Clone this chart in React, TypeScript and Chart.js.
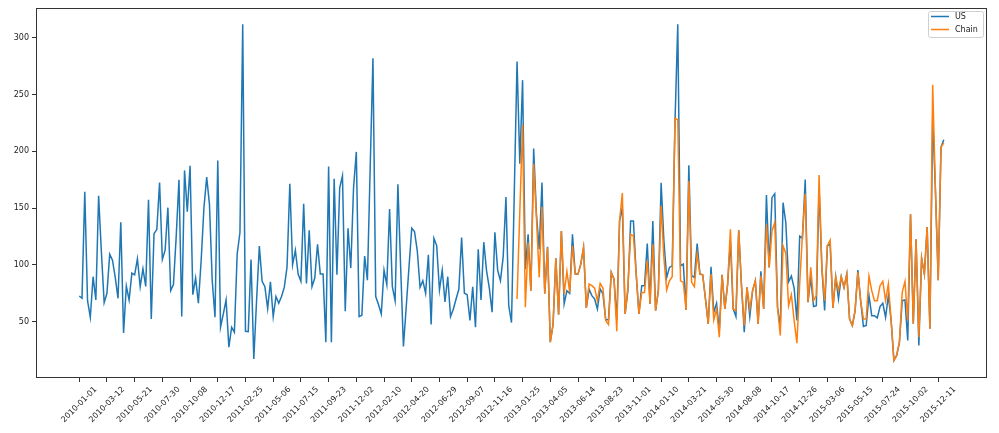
import React, { useEffect, useRef } from 'react';
import { Chart, registerables } from 'chart.js';

Chart.register(...registerables);

// Weekly series starting 2010-01-01 (index = week number)
const tickLabels = [
  '2010-01-01', '2010-03-12', '2010-05-21', '2010-07-30', '2010-10-08', '2010-12-17',
  '2011-02-25', '2011-05-06', '2011-07-15', '2011-09-23', '2011-12-02', '2012-02-10',
  '2012-04-20', '2012-06-29', '2012-09-07', '2012-11-16', '2013-01-25', '2013-04-05',
  '2013-06-14', '2013-08-23', '2013-11-01', '2014-01-10', '2014-03-21', '2014-05-30',
  '2014-08-08', '2014-10-17', '2014-12-26', '2015-03-06', '2015-05-15', '2015-07-24',
  '2015-10-02', '2015-12-11',
];
const tickStep = 10;

const usValues = [
  72.5, 70.5, 164.3, 68.4, 53.8, 89.5, 69, 160.8, 111, 66.7,
  74.9, 109.4, 104.1, 88.9, 70.5, 137.4, 40, 81.3, 69, 92.7,
  91.2, 105.3, 80.7, 96.5, 81, 157.3, 52.3, 127.5, 131, 172.5,
  104.7, 112.9, 150.3, 77.2, 82.5, 125, 174.9, 54.4, 183.1, 146.8,
  187.1, 73.7, 88.3, 66.1, 103.5, 150, 177.2, 153.2, 85.9, 53.8,
  191.8, 45, 56.7, 69, 27.5, 45, 40.6, 109.4, 128.4, 311.7,
  41.5, 41.2, 104.7, 17, 68.4, 116.4, 85.4, 80.7, 61.4, 85.1,
  54.4, 72, 66.1, 72, 80.1, 98.2, 171.3, 100, 112.9, 91.8,
  85.4, 153.8, 83.6, 130.4, 80.7, 88.3, 118.1, 91.8, 91.8, 31.9,
  186.5, 31.9, 175.7, 91.2, 167.8, 178.4, 59.1, 132.2, 97.1, 167.8,
  199.4, 54.4, 55.6, 107.6, 86.5, 185, 281.9, 72, 65, 56.7,
  95.3, 82.5, 149.1, 80.7, 68.4, 170.8, 97.7, 28.1, 62.6, 97.7,
  132.2, 129.2, 112.3, 80.1, 86, 74.9, 108.8, 47.4, 123.4, 116.9,
  77.8, 95.3, 67.3, 89.5, 54.4, 60.8, 69.9, 78.4, 124, 74.9,
  73.7, 50.9, 80.7, 45, 113.7, 69, 119.9, 94.7, 79.5, 58.2,
  128.7, 95.3, 85.9, 107, 159.6, 64.3, 49.1, 163, 279, 188.9,
  262.6, 96.2, 126.9, 77.2, 202.3, 144.4, 113.7, 172.5, 74.9, 115.8,
  31.9, 47.4, 105.8, 56.1, 129.8, 65.5, 77.2, 74.9, 126.9, 91.8,
  91.8, 100.6, 115.2, 62, 78.4, 72.8, 69.9, 61.1, 78.7, 74.3,
  51.5, 51.5, 93.3, 87.4, 50.9, 138.6, 150.3, 56.7, 77.2, 138.6,
  138.6, 91.8, 56.7, 81.6, 81.6, 118.7, 65.5, 138.6, 59.7, 77.2,
  172.2, 121, 88.7, 97.7, 99.1, 225, 311.7, 99.1, 100.6, 60.2,
  187.7, 90.4, 88.9, 118.7, 91.8, 91.2, 69.9, 48, 98.2, 58.2,
  66.1, 42.1, 91.2, 61.1, 83, 121, 61.1, 54.4, 130.4, 81.6,
  40.6, 80.1, 54.4, 77.2, 85.9, 48, 94.2, 61.1, 161.4, 97.7,
  159.1, 162.6, 62.6, 45, 154.7, 137, 85, 90.1, 79.5, 50.9,
  125.2, 123.4, 175.1, 67, 88.9, 63.2, 64, 167.8, 97.7, 59.7,
  116.7, 118.1, 62, 89.5, 69.9, 89.5, 80.1, 91.8, 52.3, 46.5,
  59.7, 95.3, 68.4, 45.6, 46.5, 73, 55.2, 55.2, 53.2, 63.2,
  66.1, 53.8, 72.8, 50.9, 15.8, 20.2, 31.9, 68.4, 69, 33.3,
  144.4, 48, 122.5, 28.9, 105.8, 91.8, 133.3, 43.6, 230, 165,
  86.5, 203.5, 210.2,
];

const chainStart = 158;
const chainValues = [
  69.9, 146.8, 223.4, 62.6, 119.6, 77.2, 188.9, 141.5, 88.9, 150.9,
  74.3, 115.2, 31.9, 47.4, 105.8, 56.1, 129.8, 74.3, 94.2, 75.7,
  116.7, 91.8, 91.8, 100.6, 115.2, 62, 83, 81.6, 79.5, 68.4,
  83.6, 79.5, 50.9, 47.4, 93.3, 87.4, 41.5, 138.6, 163.2, 56.7,
  80.1, 126.9, 125.4, 91.8, 56.7, 75.7, 75.7, 103.5, 65.5, 118.1,
  59.7, 77.2, 151.8, 106, 77.8, 85.9, 89.5, 229, 227.8, 85.9,
  84.5, 60.2, 173.7, 84.5, 80.7, 109.4, 91.8, 91.2, 69.9, 48,
  91.8, 51.5, 61.1, 36.3, 91.2, 61.1, 83, 131.3, 61.1, 59.7,
  130.4, 81.6, 46.5, 80.1, 61.1, 77.2, 85.9, 48, 90.4, 61.1,
  135.7, 97.7, 129.8, 137.2, 62.6, 37.7, 116.7, 110, 64, 73.7,
  50.9, 31, 83, 126.9, 162.6, 67, 97.7, 68.4, 72.8, 179,
  97.7, 68.4, 116.7, 121.6, 62, 89.5, 77.2, 89.5, 80.1, 91.8,
  52.3, 46.5, 59.7, 93.3, 68.4, 52.3, 52.3, 90, 77.2, 68.4,
  68.4, 81.6, 85.4, 68.4, 83, 50.9, 15.8, 20.2, 31.9, 75.7,
  85.4, 50.9, 144.4, 48, 122.5, 36.3, 105.8, 91.8, 133.3, 43.6,
  258.5, 165, 86.5, 203.5, 207.3,
];

const yTicks = [50, 100, 150, 200, 250, 300];
const seriesNames = ['US', 'Chain'];
const seriesColors = ['#1f77b4', '#ff7f0e'];

const FONT = '8px "DejaVu Sans", sans-serif';

const framePlugin = {
  id: 'frameAndLabels',
  afterDatasetsDraw(chart: any) {
    const { ctx, chartArea } = chart;
    const xs = chart.scales.x;
    ctx.save();
    // axes frame
    ctx.strokeStyle = '#333';
    ctx.lineWidth = 1;
    ctx.strokeRect(
      Math.round(chartArea.left) + 0.5,
      Math.round(chartArea.top) + 0.5,
      Math.round(chartArea.right - chartArea.left) - 1,
      Math.round(chartArea.bottom - chartArea.top) - 1
    );
    // rotated x tick labels (centered on tick like matplotlib)
    ctx.font = FONT;
    ctx.fillStyle = '#222';
    ctx.textAlign = 'center';
    ctx.textBaseline = 'middle';
    const H = 9.3;
    tickLabels.forEach((lab, k) => {
      const px = xs.getPixelForValue(k * tickStep);
      const W = ctx.measureText(lab).width;
      const half = ((W + H) * Math.SQRT1_2) / 2;
      const cy = chartArea.bottom + 7 + half;
      ctx.save();
      ctx.translate(px, cy);
      ctx.rotate(-Math.PI / 4);
      ctx.fillText(lab, 0, 0);
      ctx.restore();
    });
    // legend
    const bx = 928.5, by = 11.5, bw = 55, bh = 26;
    ctx.beginPath();
    const r = 2;
    ctx.moveTo(bx + r, by);
    ctx.lineTo(bx + bw - r, by);
    ctx.quadraticCurveTo(bx + bw, by, bx + bw, by + r);
    ctx.lineTo(bx + bw, by + bh - r);
    ctx.quadraticCurveTo(bx + bw, by + bh, bx + bw - r, by + bh);
    ctx.lineTo(bx + r, by + bh);
    ctx.quadraticCurveTo(bx, by + bh, bx, by + bh - r);
    ctx.lineTo(bx, by + r);
    ctx.quadraticCurveTo(bx, by, bx + r, by);
    ctx.closePath();
    ctx.fillStyle = 'rgba(255,255,255,0.8)';
    ctx.fill();
    ctx.strokeStyle = '#d0d0d0';
    ctx.stroke();
    seriesNames.forEach((name, i) => {
      const ly = 16.5 + i * 13;
      ctx.strokeStyle = seriesColors[i];
      ctx.lineWidth = 1.5;
      ctx.beginPath();
      ctx.moveTo(931, ly);
      ctx.lineTo(949, ly);
      ctx.stroke();
      ctx.fillStyle = '#222';
      ctx.textAlign = 'left';
      ctx.textBaseline = 'middle';
      ctx.fillText(name, 955, ly + 0.5);
    });
    ctx.restore();
  },
};

export default function App() {
  const ref = useRef<HTMLCanvasElement | null>(null);

  useEffect(() => {
    document.body.style.margin = '0';
    const canvas = ref.current;
    if (!canvas) return;
    const usData = usValues.map((y, i) => ({ x: i, y }));
    const chainData = chainValues.map((y, k) => ({ x: chainStart + k, y }));
    const n = usValues.length - 1;
    const chart = new Chart(canvas, {
      type: 'line',
      data: {
        datasets: [
          {
            label: seriesNames[0],
            data: usData,
            borderColor: seriesColors[0],
            backgroundColor: seriesColors[0],
            borderWidth: 1.5,
            pointRadius: 0,
            tension: 0,
            order: 1,
          },
          {
            label: seriesNames[1],
            data: chainData,
            borderColor: seriesColors[1],
            backgroundColor: seriesColors[1],
            borderWidth: 1.5,
            pointRadius: 0,
            tension: 0,
            order: 0,
          },
        ],
      },
      options: {
        responsive: false,
        animation: false,
        devicePixelRatio: 1,
        parsing: false,
        layout: { padding: { left: 0, right: 12, top: 6, bottom: 0 } },
        plugins: { legend: { display: false }, tooltip: { enabled: false } },
        scales: {
          x: {
            type: 'linear',
            min: -0.05 * n,
            max: n * 1.05,
            afterBuildTicks: (s: any) => {
              s.ticks = tickLabels.map((_, k) => ({ value: k * tickStep }));
            },
            afterFit: (s: any) => {
              s.height = 55;
            },
            ticks: { display: false },
            grid: { drawOnChartArea: false, drawTicks: true, tickLength: 4, color: '#333', lineWidth: 1 },
            border: { display: false },
          },
          y: {
            type: 'linear',
            min: 0.3,
            max: 326.3,
            afterBuildTicks: (s: any) => {
              s.ticks = yTicks.map((v) => ({ value: v }));
            },
            afterFit: (s: any) => {
              s.width = 36;
            },
            ticks: {
              font: { family: '"DejaVu Sans", sans-serif', size: 8 },
              color: '#222',
              padding: 3,
              callback: (v: any) => String(v),
            },
            grid: { drawOnChartArea: false, drawTicks: true, tickLength: 4, color: '#333', lineWidth: 1 },
            border: { display: false },
          },
        },
      } as any,
      plugins: [framePlugin],
    });
    return () => chart.destroy();
  }, []);

  return (
    <div style={{ position: 'absolute', left: 0, top: 0, width: 999, height: 433, background: '#fff' }}>
      <canvas ref={ref} width={999} height={433} style={{ width: 999, height: 433, display: 'block' }} />
    </div>
  );
}
